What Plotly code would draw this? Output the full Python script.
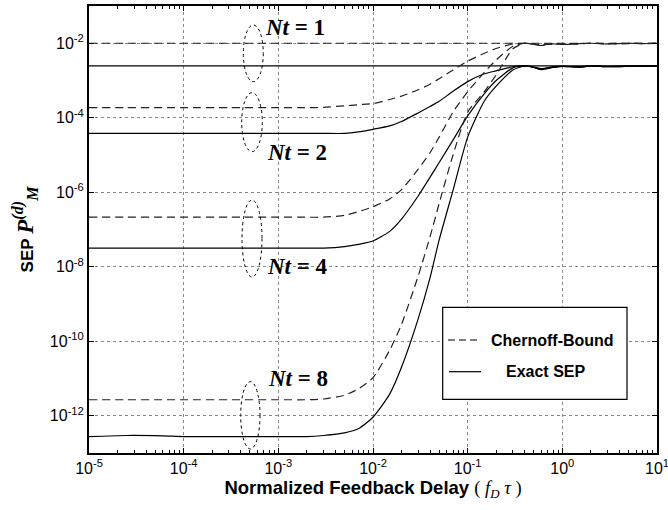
import plotly.graph_objects as go

# Normalized feedback delay f_D*tau
delay = [1e-5, 2.5e-5, 6e-5, 1e-4, 3e-4, 1e-3, 2e-3, 3e-3, 5e-3, 7e-3,
         0.01, 0.015, 0.02, 0.03, 0.04, 0.05, 0.07, 0.1, 0.15, 0.2,
         0.3, 0.4, 0.5, 0.6, 0.8, 1, 1.5, 2, 3, 5, 7, 10]

# SEP values, stored as log10 exponents
nt1_chernoff = [-2.0] * 32
nt1_exact = [-2.61] * 32
nt2_chernoff = [-3.73, -3.73, -3.73, -3.73, -3.73, -3.73, -3.73, -3.72, -3.68, -3.65,
                -3.62, -3.51, -3.42, -3.25, -3.10, -2.95, -2.72, -2.48, -2.27, -2.14,
                -2.02, -2.00, -2.02, -2.04, -2.01, -2.02, -2.01, -2.00, -2.01, -2.00, -2.01, -2.00]
nt2_exact = [-4.42, -4.42, -4.42, -4.42, -4.42, -4.42, -4.42, -4.42, -4.42, -4.38,
             -4.31, -4.22, -4.10, -3.87, -3.70, -3.56, -3.29, -3.03, -2.82, -2.74,
             -2.63, -2.61, -2.64, -2.68, -2.63, -2.62, -2.63, -2.61, -2.62, -2.61, -2.62, -2.61]
nt4_chernoff = [-6.67, -6.67, -6.67, -6.67, -6.67, -6.67, -6.67, -6.67, -6.62, -6.52,
                -6.39, -6.18, -5.93, -5.38, -4.94, -4.52, -3.85, -3.30, -2.78, -2.45,
                -2.08, -2.00, -2.03, -2.05, -2.02, -2.03, -2.02, -2.00, -2.02, -2.01, -2.00, -2.00]
nt4_exact = [-7.50, -7.50, -7.50, -7.50, -7.50, -7.50, -7.50, -7.50, -7.46, -7.40,
             -7.31, -7.05, -6.72, -6.10, -5.60, -5.20, -4.60, -3.95, -3.35, -3.00,
             -2.66, -2.61, -2.65, -2.70, -2.64, -2.62, -2.64, -2.61, -2.63, -2.62, -2.61, -2.61]
nt8_chernoff = [-11.57, -11.57, -11.57, -11.57, -11.57, -11.57, -11.57, -11.55, -11.45, -11.28,
                -10.98, -10.24, -9.55, -8.25, -7.20, -6.30, -5.00, -3.85, -3.30, -2.85,
                -2.15, -2.00, -2.03, -2.06, -2.02, -2.03, -2.01, -2.00, -2.02, -2.00, -2.01, -2.00]
nt8_exact = [-12.56, -12.53, -12.54, -12.56, -12.56, -12.56, -12.56, -12.53, -12.46, -12.35,
             -12.04, -11.42, -10.70, -9.40, -8.30, -7.28, -5.95, -4.52, -3.55, -3.15,
             -2.72, -2.61, -2.65, -2.71, -2.65, -2.62, -2.64, -2.61, -2.63, -2.62, -2.61, -2.61]

series = [
    ("Nt=1 Chernoff", nt1_chernoff, "dash"),
    ("Nt=1 Exact", nt1_exact, "solid"),
    ("Nt=2 Chernoff", nt2_chernoff, "dash"),
    ("Nt=2 Exact", nt2_exact, "solid"),
    ("Nt=4 Chernoff", nt4_chernoff, "dash"),
    ("Nt=4 Exact", nt4_exact, "solid"),
    ("Nt=8 Chernoff", nt8_chernoff, "dash"),
    ("Nt=8 Exact", nt8_exact, "solid"),
]

x_decades = [1e-5, 1e-4, 1e-3, 1e-2, 1e-1, 1, 10]
x_ticktext = ["10<sup>-5</sup>", "10<sup>-4</sup>", "10<sup>-3</sup>", "10<sup>-2</sup>",
              "10<sup>-1</sup>", "10<sup>0</sup>", "10<sup>1</sup>"]
y_tickvals = [1e-12, 1e-10, 1e-8, 1e-6, 1e-4, 1e-2]
y_ticktext = ["10<sup>-12</sup>", "10<sup>-10</sup>", "10<sup>-8</sup>", "10<sup>-6</sup>",
              "10<sup>-4</sup>", "10<sup>-2</sup>"]
minor_mult = [2, 3, 4, 5, 6, 7, 8, 9]

nt_labels = ["Nt = 1", "Nt = 2", "Nt = 4", "Nt = 8"]
legend_labels = ["Chernoff-Bound", "Exact SEP"]

fig = go.Figure()
for name, logs, style in series:
    fig.add_trace(go.Scatter(
        x=delay, y=[10 ** v for v in logs], mode="lines", name=name,
        line=dict(color="#222" if style == "dash" else "black", width=1.2,
                  dash="8px,5px" if style == "dash" else "solid",
                  shape="spline", smoothing=0.6),
        showlegend=False, hoverinfo="skip"))

# plot area in px: x 89..657, y 6..453
def px(X):
    return (X - 89) / 568

def py(Y):
    return (453 - Y) / 447

shapes = []
# dotted ellipses
for (x0, x1, y0, y1) in [(243.3, 263.3, 25, 81.7), (241.7, 262.3, 92.7, 151.7),
                         (242, 262, 200, 277), (240.7, 260, 381.7, 449)]:
    shapes.append(dict(type="circle", xref="paper", yref="paper",
                       x0=px(x0), x1=px(x1), y0=py(y1), y1=py(y0),
                       line=dict(color="black", width=1, dash="dot")))
# legend box
shapes.append(dict(type="rect", xref="paper", yref="paper",
                   x0=px(442.7), x1=px(627), y0=py(399.3), y1=py(307.3),
                   fillcolor="white", line=dict(color="black", width=1.2), layer="above"))
shapes.append(dict(type="line", xref="paper", yref="paper",
                   x0=px(448), x1=px(481), y0=py(340), y1=py(340),
                   line=dict(color="black", width=1.2, dash="7px,4px"), layer="above"))
shapes.append(dict(type="line", xref="paper", yref="paper",
                   x0=px(449), x1=px(481), y0=py(371.7), y1=py(371.7),
                   line=dict(color="black", width=1.2), layer="above"))

annotations = []
for lab, (X, Y) in zip(nt_labels, [(295, 27), (297, 152), (297, 267), (298, 378)]):
    n, rest = lab.split(" = ")
    annotations.append(dict(
        text="<b><i>Nt</i> = " + rest + "</b>", xref="paper", yref="paper",
        x=px(X), y=py(Y), showarrow=False, xanchor="center", yanchor="middle",
        font=dict(family="Liberation Serif", size=23, color="black")))
for lab, (X, Y) in zip(legend_labels, [(552, 340), (545, 371.7)]):
    annotations.append(dict(
        text="<b>" + lab + "</b>", xref="paper", yref="paper",
        x=px(X), y=py(Y), showarrow=False, xanchor="center", yanchor="middle",
        font=dict(family="Liberation Sans", size=16, color="black")))

axis_common = dict(
    type="log", showline=True, linecolor="black", linewidth=2, mirror="allticks",
    ticks="inside", ticklen=5, tickcolor="black", showgrid=True, gridcolor="#888",
    griddash="dot", gridwidth=1, zeroline=False, automargin=False,
    ticklabeloverflow="allow",
    tickfont=dict(family="Liberation Sans", size=16, color="black"))

fig.update_layout(
    template="none",
    width=668, height=510, autosize=False,
    margin=dict(l=89, r=11, t=6, b=57),
    paper_bgcolor="white", plot_bgcolor="white",
    shapes=shapes, annotations=annotations,
    xaxis=dict(**axis_common, range=[-5, 1], tickvals=x_decades, ticktext=x_ticktext,
               minor=dict(ticks="inside", ticklen=3, tickcolor="black", showgrid=False,
                          tickvals=[m * d for d in x_decades[:-1] for m in minor_mult]),
               title=dict(text="<b>Normalized Feedback Delay</b> "
                               "<span style='font-family:Liberation Serif'>( <i>f<sub>D</sub> τ</i> )</span>",
                          font=dict(family="Liberation Sans", size=18.5, color="black"),
                          standoff=4)),
    yaxis=dict(**axis_common, range=[-13, -1], tickvals=y_tickvals, ticktext=y_ticktext,
               title=dict(text="<b>SEP</b> <span style='font-family:Liberation Serif;font-size:23px'><b><i>P</i></b>"
                               "<sup><b><i>(d)</i></b></sup><sub><b><i>M</i></b></sub></span>",
                          font=dict(family="Liberation Sans", size=17, color="black"),
                          standoff=12)),
)

fig.write_html("out.html", config={"displayModeBar": False, "staticPlot": True},
               post_script="document.body.style.margin='0px';")
